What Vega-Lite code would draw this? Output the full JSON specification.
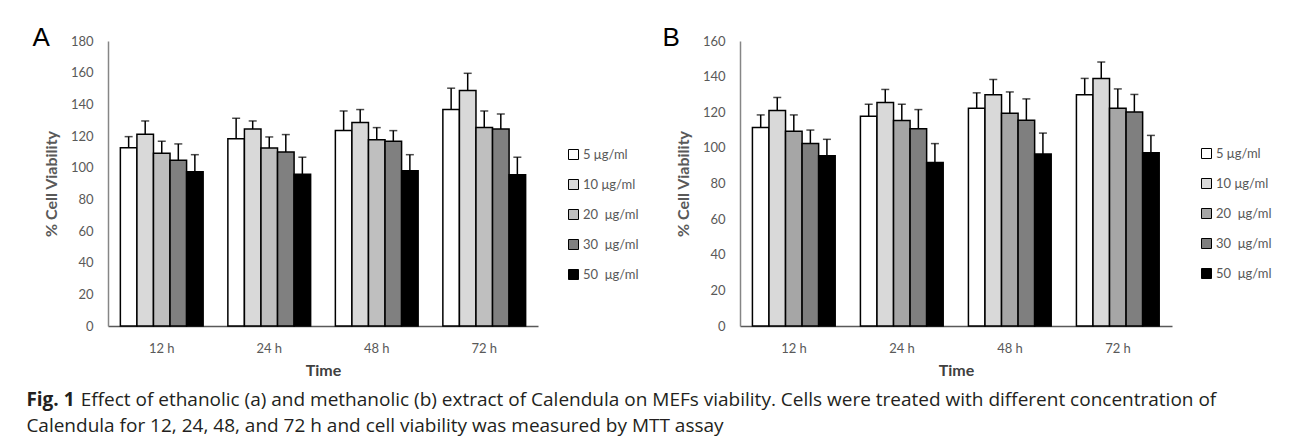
{
  "$schema": "https://vega.github.io/schema/vega-lite/v6.json",
  "background": "white",
  "padding": {"left": 26, "top": 25, "right": 0, "bottom": 8},
  "spacing": 23,
  "title": {
    "text": "Fig. 1",
    "subtitle": ["\u200b\u00a0\u00a0\u00a0\u00a0\u00a0\u00a0\u00a0\u00a0\u00a0\u00a0\u00a0Effect of ethanolic (a) and methanolic (b) extract of Calendula on MEFs viability. Cells were treated with different concentration of", "Calendula for 12, 24, 48, and 72 h and cell viability was measured by MTT assay"],
    "orient": "bottom",
    "anchor": "start",
    "frame": "bounds",
    "dx": -6,
    "offset": 13,
    "font": "Open Sans",
    "fontSize": 19,
    "fontWeight": "bold",
    "color": "#231f20",
    "subtitleFont": "Open Sans",
    "subtitleFontSize": 19,
    "subtitleColor": "#231f20",
    "subtitleLineHeight": 26,
    "subtitlePadding": -19
  },
  "datasets": {
    "cellA": [
      {"time": "12 h", "conc": "5 μg/ml", "value": 112.6, "upper": 119.6},
      {"time": "12 h", "conc": "10 μg/ml", "value": 121.1, "upper": 129.5},
      {"time": "12 h", "conc": "20\u00a0\u00a0μg/ml", "value": 109.1, "upper": 116.7},
      {"time": "12 h", "conc": "30\u00a0\u00a0μg/ml", "value": 104.7, "upper": 115.0},
      {"time": "12 h", "conc": "50\u00a0\u00a0μg/ml", "value": 97.5, "upper": 108.2},
      {"time": "24 h", "conc": "5 μg/ml", "value": 118.3, "upper": 131.2},
      {"time": "24 h", "conc": "10 μg/ml", "value": 124.4, "upper": 129.5},
      {"time": "24 h", "conc": "20\u00a0\u00a0μg/ml", "value": 112.4, "upper": 119.4},
      {"time": "24 h", "conc": "30\u00a0\u00a0μg/ml", "value": 109.9, "upper": 120.9},
      {"time": "24 h", "conc": "50\u00a0\u00a0μg/ml", "value": 95.8, "upper": 106.6},
      {"time": "48 h", "conc": "5 μg/ml", "value": 123.4, "upper": 135.8},
      {"time": "48 h", "conc": "10 μg/ml", "value": 128.6, "upper": 136.7},
      {"time": "48 h", "conc": "20\u00a0\u00a0μg/ml", "value": 117.7, "upper": 125.3},
      {"time": "48 h", "conc": "30\u00a0\u00a0μg/ml", "value": 116.7, "upper": 123.4},
      {"time": "48 h", "conc": "50\u00a0\u00a0μg/ml", "value": 98.1, "upper": 108.2},
      {"time": "72 h", "conc": "5 μg/ml", "value": 136.7, "upper": 150.2},
      {"time": "72 h", "conc": "10 μg/ml", "value": 148.7, "upper": 159.6},
      {"time": "72 h", "conc": "20\u00a0\u00a0μg/ml", "value": 125.4, "upper": 135.8},
      {"time": "72 h", "conc": "30\u00a0\u00a0μg/ml", "value": 124.4, "upper": 133.9},
      {"time": "72 h", "conc": "50\u00a0\u00a0μg/ml", "value": 95.6, "upper": 106.6}
    ],
    "cellB": [
      {"time": "12 h", "conc": "5 μg/ml", "value": 111.5, "upper": 118.5},
      {"time": "12 h", "conc": "10 μg/ml", "value": 121.0, "upper": 128.3},
      {"time": "12 h", "conc": "20\u00a0\u00a0μg/ml", "value": 109.3, "upper": 118.5},
      {"time": "12 h", "conc": "30\u00a0\u00a0μg/ml", "value": 102.4, "upper": 110.0},
      {"time": "12 h", "conc": "50\u00a0\u00a0μg/ml", "value": 95.6, "upper": 104.8},
      {"time": "24 h", "conc": "5 μg/ml", "value": 117.7, "upper": 124.5},
      {"time": "24 h", "conc": "10 μg/ml", "value": 125.5, "upper": 132.8},
      {"time": "24 h", "conc": "20\u00a0\u00a0μg/ml", "value": 115.3, "upper": 124.5},
      {"time": "24 h", "conc": "30\u00a0\u00a0μg/ml", "value": 110.8, "upper": 121.5},
      {"time": "24 h", "conc": "50\u00a0\u00a0μg/ml", "value": 91.8, "upper": 102.4},
      {"time": "48 h", "conc": "5 μg/ml", "value": 122.3, "upper": 130.9},
      {"time": "48 h", "conc": "10 μg/ml", "value": 129.8, "upper": 138.4},
      {"time": "48 h", "conc": "20\u00a0\u00a0μg/ml", "value": 119.4, "upper": 131.4},
      {"time": "48 h", "conc": "30\u00a0\u00a0μg/ml", "value": 115.5, "upper": 127.5},
      {"time": "48 h", "conc": "50\u00a0\u00a0μg/ml", "value": 96.5, "upper": 108.3},
      {"time": "72 h", "conc": "5 μg/ml", "value": 129.8, "upper": 139.0},
      {"time": "72 h", "conc": "10 μg/ml", "value": 139.0, "upper": 148.2},
      {"time": "72 h", "conc": "20\u00a0\u00a0μg/ml", "value": 122.3, "upper": 133.1},
      {"time": "72 h", "conc": "30\u00a0\u00a0μg/ml", "value": 120.2, "upper": 130.0},
      {"time": "72 h", "conc": "50\u00a0\u00a0μg/ml", "value": 97.3, "upper": 107.0}
    ]
  },
  "hconcat": [
    {
      "width": 430,
      "height": 285,
      "data": {"name": "cellA"},
      "title": {"text": "A", "anchor": "start", "frame": "bounds", "font": "Liberation Sans", "fontSize": 26, "fontWeight": "normal", "color": "black", "offset": -16, "dx": -11},
      "encoding": {
        "x": {"field": "time", "type": "nominal", "sort": null, "scale": {"paddingInner": 0.23, "paddingOuter": 0.115}, "axis": {"title": "Time"}},
        "xOffset": {"field": "conc", "type": "nominal", "sort": null, "scale": {"paddingInner": 0, "paddingOuter": 0}}
      },
      "layer": [
        {
          "mark": {"type": "bar", "stroke": "black", "strokeWidth": 1.5},
          "encoding": {
            "y": {"field": "value", "type": "quantitative", "scale": {"domain": [0, 180]}, "axis": {"title": "% Cell Viability", "values": [0, 20, 40, 60, 80, 100, 120, 140, 160, 180]}},
            "color": {"field": "conc", "type": "nominal", "sort": null,
              "scale": {"domain": ["5 μg/ml", "10 μg/ml", "20\u00a0\u00a0μg/ml", "30\u00a0\u00a0μg/ml", "50\u00a0\u00a0μg/ml"], "range": ["#ffffff", "#d9d9d9", "#bfbfbf", "#808080", "#000000"]},
              "legend": {"orient": "none", "legendX": 459, "legendY": 107}}
          }
        },
        {
          "mark": {"type": "rule", "color": "black", "strokeWidth": 1.5},
          "encoding": {"y": {"field": "value", "type": "quantitative", "axis": {"title": "% Cell Viability", "values": [0, 20, 40, 60, 80, 100, 120, 140, 160, 180]}}, "y2": {"field": "upper"}}
        },
        {
          "mark": {"type": "tick", "color": "black", "thickness": 1.5, "size": 8, "orient": "horizontal"},
          "encoding": {"y": {"field": "upper", "type": "quantitative", "axis": {"title": "% Cell Viability", "values": [0, 20, 40, 60, 80, 100, 120, 140, 160, 180]}}}
        }
      ]
    },
    {
      "width": 432,
      "height": 285,
      "data": {"name": "cellB"},
      "title": {"text": "B", "anchor": "start", "frame": "bounds", "font": "Liberation Sans", "fontSize": 26, "fontWeight": "normal", "color": "black", "offset": -16, "dx": -13},
      "encoding": {
        "x": {"field": "time", "type": "nominal", "sort": null, "scale": {"paddingInner": 0.23, "paddingOuter": 0.115}, "axis": {"title": "Time"}},
        "xOffset": {"field": "conc", "type": "nominal", "sort": null, "scale": {"paddingInner": 0, "paddingOuter": 0}}
      },
      "layer": [
        {
          "mark": {"type": "bar", "stroke": "black", "strokeWidth": 1.5},
          "encoding": {
            "y": {"field": "value", "type": "quantitative", "scale": {"domain": [0, 160]}, "axis": {"title": "% Cell Viability", "values": [0, 20, 40, 60, 80, 100, 120, 140, 160]}},
            "color": {"field": "conc", "type": "nominal", "sort": null,
              "scale": {"domain": ["5 μg/ml", "10 μg/ml", "20\u00a0\u00a0μg/ml", "30\u00a0\u00a0μg/ml", "50\u00a0\u00a0μg/ml"], "range": ["#ffffff", "#d9d9d9", "#a6a6a6", "#7f7f7f", "#000000"]},
              "legend": {"orient": "none", "legendX": 460, "legendY": 106}}
          }
        },
        {
          "mark": {"type": "rule", "color": "black", "strokeWidth": 1.5},
          "encoding": {"y": {"field": "value", "type": "quantitative", "axis": {"title": "% Cell Viability", "values": [0, 20, 40, 60, 80, 100, 120, 140, 160]}}, "y2": {"field": "upper"}}
        },
        {
          "mark": {"type": "tick", "color": "black", "thickness": 1.5, "size": 8, "orient": "horizontal"},
          "encoding": {"y": {"field": "upper", "type": "quantitative", "axis": {"title": "% Cell Viability", "values": [0, 20, 40, 60, 80, 100, 120, 140, 160]}}}
        }
      ]
    }
  ],
  "resolve": {"scale": {"color": "independent"}, "legend": {"color": "independent"}},
  "config": {
    "view": {"stroke": null},
    "axisX": {"labelAngle": 0, "ticks": false, "domainColor": "#595959", "domainWidth": 1.5, "labelFont": "Lato", "labelFontSize": 13, "labelColor": "#595959", "labelPadding": 16, "titleFont": "Lato", "titleFontSize": 16, "titleFontWeight": "bold", "titleColor": "#404040", "titlePadding": 7},
    "axisY": {"ticks": false, "grid": false, "domainColor": "#868686", "domainWidth": 1.5, "labelFont": "Lato", "labelFontSize": 13, "labelColor": "#595959", "labelPadding": 15, "labelOverlap": false, "titleFont": "Lato", "titleFontSize": 16, "titleFontWeight": "bold", "titleColor": "#595959", "titlePadding": 11},
    "legend": {"title": null, "symbolType": "square", "symbolSize": 100, "symbolStrokeColor": "black", "symbolStrokeWidth": 1, "labelFont": "Lato", "labelFontSize": 13, "labelColor": "#595959", "rowPadding": 15, "labelOffset": 3}
  }
}
